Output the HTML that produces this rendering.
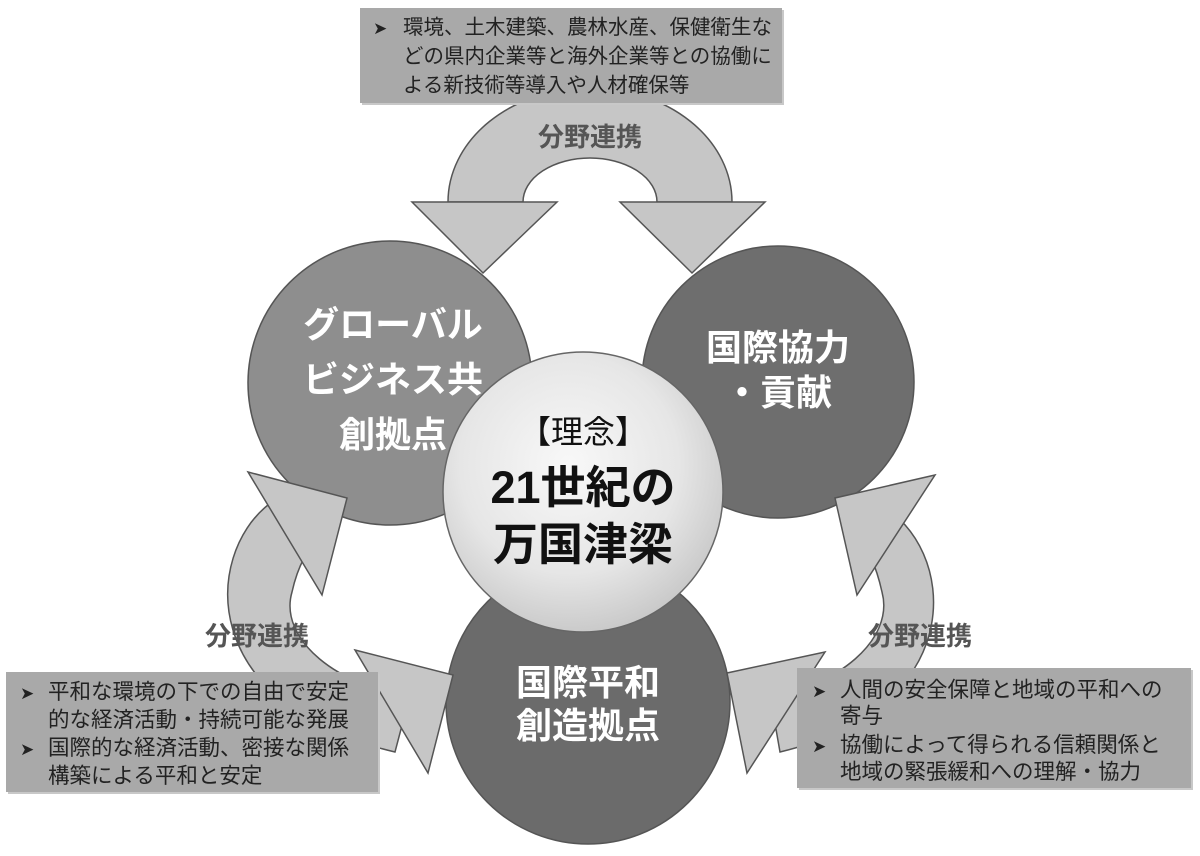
<!DOCTYPE html>
<html><head><meta charset="utf-8"><style>
html,body{margin:0;padding:0;background:#fff;}
svg{display:block;}
text{font-family:"Liberation Sans","Noto Sans CJK JP",sans-serif;}
</style></head><body>
<svg width="1200" height="856" viewBox="0 0 1200 856" xmlns="http://www.w3.org/2000/svg">
<defs>
<radialGradient id="cg" cx="0.45" cy="0.4" r="0.65">
<stop offset="0" stop-color="#f8f8f8"/><stop offset="0.6" stop-color="#e6e6e6"/><stop offset="1" stop-color="#c4c4c4"/>
</radialGradient>
</defs>
<g fill="#c6c6c6" stroke="#555" stroke-width="1.5">
<!-- top band -->
<path d="M448,202 A142,114 0 0 1 732,202 L657,202 A67,44 0 0 0 523,202 Z"/>
<!-- left band -->
<path d="M268,505 C205,555 195,705 395,752 L410,695 C340,688 278,640 292,592 C298,565 308,548 322,535 Z"/>
<!-- right band -->
<path d="M880,505 C955,545 975,705 780,752 L770,695 C835,688 895,640 882,592 C876,565 868,548 855,535 Z"/>
</g>
<!-- circles -->
<circle cx="390" cy="383" r="142" fill="#8e8e8e" stroke="#555" stroke-width="1.5"/>
<circle cx="778" cy="382" r="136" fill="#6e6e6e" stroke="#555" stroke-width="1.5"/>
<circle cx="588" cy="702" r="142" fill="#6b6b6b" stroke="#555" stroke-width="1.5"/>
<circle cx="583" cy="492" r="140" fill="url(#cg)" stroke="#666" stroke-width="1.5"/>
<!-- arrowheads -->
<g fill="#c6c6c6" stroke="#555" stroke-width="1.5">
<polygon points="412,202 557,202 483,273"/>
<polygon points="620,202 765,202 692,273"/>
<polygon points="248,472 347,498 322,595"/>
<polygon points="355,650 453,675 428,773"/>
<polygon points="935,475 835,498 857,595"/>
<polygon points="825,652 727,673 747,773"/>
</g>
<!-- boxes -->
<rect x="362" y="10" width="422" height="95" fill="#c8c8c8"/>
<rect x="360" y="8" width="422" height="95" fill="#a9a9a9"/>
<rect x="8" y="674" width="372" height="120" fill="#c8c8c8"/>
<rect x="6" y="672" width="372" height="120" fill="#a9a9a9"/>
<rect x="799" y="670" width="394" height="120" fill="#c8c8c8"/>
<rect x="797" y="668" width="394" height="120" fill="#a9a9a9"/>
<g fill="#222" font-size="20.5">
<text x="373" y="34" font-size="17">➤</text>
<text x="403" y="34">環境、土木建築、農林水産、保健衛生な</text>
<text x="403" y="63">どの県内企業等と海外企業等との協働に</text>
<text x="403" y="92">よる新技術等導入や人材確保等</text>
</g>
<g fill="#222" font-size="21.5">
<text x="20" y="699" font-size="17">➤</text>
<text x="48" y="699">平和な環境の下での自由で安定</text>
<text x="48" y="727">的な経済活動・持続可能な発展</text>
<text x="20" y="755" font-size="17">➤</text>
<text x="48" y="755">国際的な経済活動、密接な関係</text>
<text x="48" y="783">構築による平和と安定</text>
</g>
<g fill="#222" font-size="21.5">
<text x="812" y="697" font-size="17">➤</text>
<text x="840" y="697">人間の安全保障と地域の平和への</text>
<text x="840" y="723">寄与</text>
<text x="812" y="752" font-size="17">➤</text>
<text x="840" y="752">協働によって得られる信頼関係と</text>
<text x="840" y="779">地域の緊張緩和への理解・協力</text>
</g>
<!-- labels -->
<g fill="#555" font-size="26" font-weight="bold" text-anchor="middle">
<text x="590" y="146">分野連携</text>
<text x="257" y="645">分野連携</text>
<text x="920" y="645">分野連携</text>
</g>
<g fill="#fff" font-size="36" font-weight="bold" text-anchor="middle">
<text x="393" y="337">グローバル</text>
<text x="393" y="392">ビジネス共</text>
<text x="393" y="447">創拠点</text>
<text x="778" y="360">国際協力</text>
<text x="778" y="405">・貢献</text>
<text x="588" y="695">国際平和</text>
<text x="588" y="738">創造拠点</text>
</g>
<g fill="#111" text-anchor="middle">
<text x="583" y="443" font-size="32">【理念】</text>
<text x="583" y="503" font-size="45" font-weight="bold">21世紀の</text>
<text x="583" y="560" font-size="45" font-weight="bold">万国津梁</text>
</g>
</svg>
</body></html>
